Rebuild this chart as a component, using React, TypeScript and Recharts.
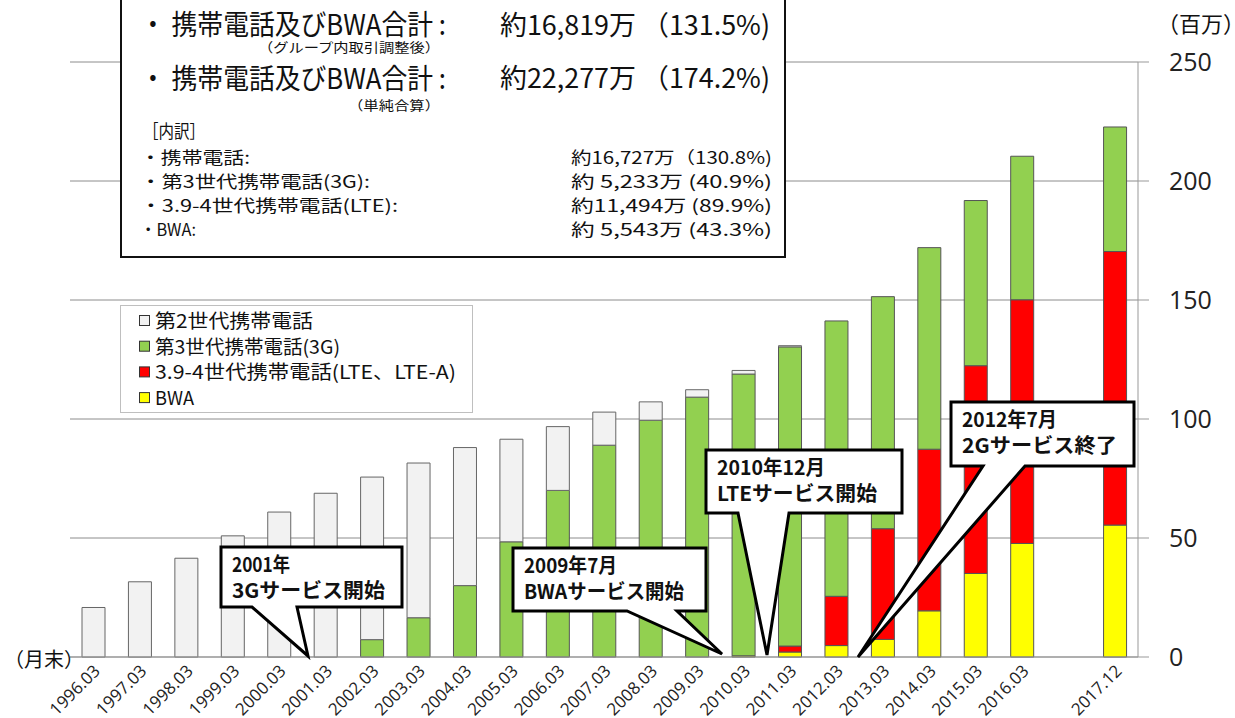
import { BarChart, Bar, XAxis, YAxis, CartesianGrid } from 'recharts'

const W = 1235
const H = 718
const JP = '"Noto Sans CJK JP", "Noto Sans", sans-serif'
const NUM = '"Open Sans", "Noto Sans", sans-serif'

// 年度末の契約数（百万）
const CATEGORIES = [
  '1996.03', '1997.03', '1998.03', '1999.03', '2000.03', '2001.03', '2002.03',
  '2003.03', '2004.03', '2005.03', '2006.03', '2007.03', '2008.03', '2009.03',
  '2010.03', '2011.03', '2012.03', '2013.03', '2014.03', '2015.03', '2016.03',
  '', '2017.12',
]
const SECOND_GEN = [20.8, 31.6, 41.5, 50.9, 60.9, 68.8, 68.3, 65.0, 58.0, 43.1, 26.8, 13.9, 7.7, 3.1, 1.5, 0.5, 0, 0, 0, 0, 0, null, 0]
const THIRD_GEN = [0, 0, 0, 0, 0, 0, 7.3, 16.5, 30.0, 48.4, 70.0, 89.0, 99.5, 109.2, 118.4, 125.7, 115.7, 97.5, 84.7, 69.4, 60.3, null, 52.33]
const LTE = [0, 0, 0, 0, 0, 0, 0, 0, 0, 0, 0, 0, 0, 0, 0, 2.5, 20.7, 46.5, 67.9, 87.3, 102.4, null, 114.94]
const BWA = [0, 0, 0, 0, 0, 0, 0, 0, 0, 0, 0, 0, 0, 0, 0.5, 2.1, 4.8, 7.4, 19.4, 35.1, 47.7, null, 55.43]
const Y_TICKS = [0, 50, 100, 150, 200, 250]

const data = CATEGORIES.map((label, i) => ({
  label,
  bwa: BWA[i],
  lte: LTE[i],
  g3: THIRD_GEN[i],
  g2: SECOND_GEN[i],
}))

const LEGEND = [
  { name: '第2世代携帯電話', color: '#f2f2f2', w: 158 },
  { name: '第3世代携帯電話(3G)', color: '#92d050', w: 185 },
  { name: '3.9-4世代携帯電話(LTE、LTE-A)', color: '#ff0000', w: 301 },
  { name: 'BWA', color: '#ffff00', w: 39 },
]

function XTick(props: any) {
  const { x, y, payload } = props
  if (!payload.value) return null
  const ax = x + 8
  const ay = y + 15
  return (
    <text x={ax} y={ay} transform={`rotate(-45 ${ax} ${ay})`} textAnchor="end"
      fontSize={17} fill="#222" fontFamily={NUM}>
      {payload.value}
    </text>
  )
}

function Callout({ x1, y1, x2, y2, tl, tr, tip, lines, widths }: {
  x1: number; y1: number; x2: number; y2: number; tl: number; tr: number
  tip: [number, number]; lines: string[]; widths: number[]
}) {
  const d = `M${x1},${y1} L${x2},${y1} L${x2},${y2} L${tr},${y2} L${tip[0]},${tip[1]} L${tl},${y2} L${x1},${y2} Z`
  return (
    <g>
      <path d={d} fill="#fff" stroke="#000" strokeWidth={3} strokeLinejoin="miter" />
      {lines.map((t, i) => (
        <text key={i} x={x1 + 11} y={y1 + 25 + i * 26} fontSize={20} fontWeight={700} fill="#111"
          fontFamily={JP} textLength={widths[i]} lengthAdjust="spacingAndGlyphs">{t}</text>
      ))}
    </g>
  )
}

function Row({ x, y, size, w, children, bold }: { x: number; y: number; size: number; w: number; children: string; bold?: boolean }) {
  return (
    <text x={x} y={y} fontSize={size} fontWeight={bold ? 700 : 400} fill="#111" fontFamily={JP}
      textLength={w} lengthAdjust="spacingAndGlyphs">{children}</text>
  )
}

export default function App() {
  return (
    <div style={{ position: 'absolute', left: 0, top: 0, width: W, height: H, background: '#fff' }}>
      <BarChart width={W} height={H} data={data} margin={{ top: 62, right: 7, left: 70, bottom: 1 }} barSize={23}>
        <CartesianGrid vertical={false} stroke="#8c8c8c" />
        <XAxis dataKey="label" height={60} interval={0} tickSize={0} tickMargin={0}
          axisLine={{ stroke: '#999' }} tickLine={false} tick={<XTick />} />
        <YAxis orientation="right" width={90} domain={[0, 250]} ticks={Y_TICKS} interval={0}
          axisLine={{ stroke: '#999' }} tickLine={{ stroke: '#999' }} tickSize={11} tickMargin={20}
          tick={{ fontSize: 25, fill: '#222', fontFamily: NUM }} />
        <Bar dataKey="bwa" stackId="s" fill="#ffff00" stroke="#555" strokeWidth={1} isAnimationActive={false} />
        <Bar dataKey="lte" stackId="s" fill="#ff0000" stroke="#555" strokeWidth={1} isAnimationActive={false} />
        <Bar dataKey="g3" stackId="s" fill="#92d050" stroke="#555" strokeWidth={1} isAnimationActive={false} />
        <Bar dataKey="g2" stackId="s" fill="#f2f2f2" stroke="#666" strokeWidth={1} isAnimationActive={false} />
      </BarChart>

      <svg width={W} height={H} style={{ position: 'absolute', left: 0, top: 0, pointerEvents: 'none' }}>
        {/* 単位 */}
        <text x={1157} y={32} fontSize={22} fill="#111" fontFamily={JP}>（百万）</text>
        <text x={4} y={667} fontSize={20} fill="#111" fontFamily={JP}>（月末）</text>

        {/* 合計ボックス */}
        <rect x={121} y={-5} width={664} height={262} fill="#fff" stroke="#111" strokeWidth={2} />
        <Row x={140} y={35} size={28} w={306}>・ 携帯電話及びBWA合計 :</Row>
        <Row x={500} y={35} size={27} w={270}>約16,819万 （131.5%)</Row>
        <Row x={258} y={52} size={13} w={182}>（グループ内取引調整後）</Row>
        <Row x={140} y={89} size={28} w={306}>・ 携帯電話及びBWA合計 :</Row>
        <Row x={500} y={88} size={27} w={270}>約22,277万 （174.2%)</Row>
        <Row x={348} y={110} size={13} w={92}>（単純合算）</Row>
        <Row x={143} y={138} size={18} w={62}>［内訳］</Row>
        <Row x={140} y={164} size={17} w={110}>・携帯電話:</Row>
        <Row x={571} y={164} size={17} w={201}>約16,727万（130.8%)</Row>
        <Row x={140} y={188} size={17} w={230}>・第3世代携帯電話(3G):</Row>
        <Row x={571} y={188} size={17} w={201}>約 5,233万  (40.9%)</Row>
        <Row x={140} y={212} size={17} w={258}>・3.9-4世代携帯電話(LTE):</Row>
        <Row x={571} y={212} size={17} w={201}>約11,494万  (89.9%)</Row>
        <Row x={140} y={236} size={17} w={56}>・BWA:</Row>
        <Row x={571} y={236} size={17} w={201}>約 5,543万  (43.3%)</Row>

        {/* 凡例 */}
        <rect x={120.5} y={305.5} width={352} height={107} fill="#fff" stroke="#bfbfbf" />
        {LEGEND.map((l, i) => (
          <g key={l.name}>
            <rect x={139.5} y={315.5 + i * 25.7} width={10} height={10} fill={l.color} stroke="#333" />
            <text x={155} y={328 + i * 25.7} fontSize={19} fill="#111" fontFamily={JP}
              textLength={l.w} lengthAdjust="spacingAndGlyphs">{l.name}</text>
          </g>
        ))}

        {/* 吹き出し */}
        <Callout x1={221} y1={547} x2={402} y2={607} tl={252} tr={297} tip={[308, 656]}
          lines={['2001年', '3Gサービス開始']} widths={[58, 153]} />
        <Callout x1={513} y1={548} x2={706} y2={611} tl={627} tr={677} tip={[722, 654]}
          lines={['2009年7月', 'BWAサービス開始']} widths={[93, 160]} />
        <Callout x1={706} y1={450} x2={902} y2={513} tl={738} tr={789} tip={[767, 655]}
          lines={['2010年12月', 'LTEサービス開始']} widths={[108, 160]} />
        <Callout x1={951} y1={402} x2={1134} y2={466} tl={983} tr={1025} tip={[858, 657]}
          lines={['2012年7月', '2Gサービス終了']} widths={[95, 155]} />
      </svg>
    </div>
  )
}
